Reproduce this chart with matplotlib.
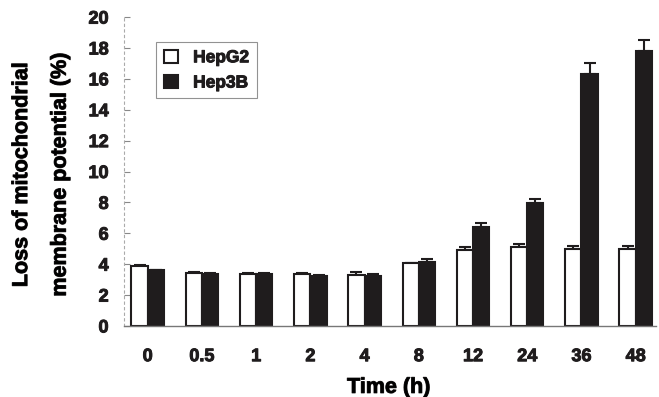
import numpy as np
import matplotlib
matplotlib.use("Agg")
import matplotlib.pyplot as plt
import matplotlib.patheffects as pe

# values
time_labels = ["0", "0.5", "1", "2", "4", "8", "12", "24", "36", "48"]
hepg2 = [3.9, 3.45, 3.35, 3.35, 3.3, 4.05, 4.9, 5.1, 4.95, 4.95]
hepg2_err = [0.05, 0.05, 0.05, 0.05, 0.2, 0.05, 0.18, 0.2, 0.2, 0.2]
hep3b = [3.6, 3.35, 3.35, 3.25, 3.25, 4.15, 6.4, 7.95, 16.3, 17.8]
hep3b_err = [0.05, 0.1, 0.05, 0.05, 0.12, 0.2, 0.25, 0.3, 0.7, 0.7]
y_ticks = [0, 2, 4, 6, 8, 10, 12, 14, 16, 18, 20]

dark = "#1f1c1d"
plt.rcParams["font.family"] = ["Liberation Sans", "DejaVu Sans"]
plt.rcParams["font.weight"] = "bold"
plt.rcParams["text.color"] = dark
plt.rcParams["xtick.labelcolor"] = dark
plt.rcParams["ytick.labelcolor"] = dark
# slightly heavier glyphs, like the scanned figure
heavy = [pe.withStroke(linewidth=0.7, foreground=dark)]

fig = plt.figure(figsize=(6.59, 3.97), dpi=100)
ax = fig.add_axes([0.188, 0.179, 0.807, 0.778])

x = np.arange(len(time_labels))
w = 0.3

ax.bar(x - w / 2, hepg2, width=w, color="white", edgecolor=dark, linewidth=1.5,
       label="HepG2", zorder=2)
ax.bar(x + w / 2, hep3b, width=w, color=dark, edgecolor=dark, linewidth=1.5,
       label="Hep3B", zorder=2)

# upward error bars only
ax.errorbar(x - w / 2, hepg2, yerr=[np.zeros(len(hepg2)), hepg2_err], fmt="none",
            ecolor=dark, elinewidth=1.5, capsize=4, capthick=1.5, zorder=1)
ax.errorbar(x + w / 2, hep3b, yerr=[np.zeros(len(hep3b)), hep3b_err], fmt="none",
            ecolor=dark, elinewidth=1.5, capsize=4, capthick=1.5, zorder=1)

ax.set_xlim(-0.44, 9.37)
ax.set_ylim(0, 20)
ax.set_yticks(y_ticks)
ax.set_xticks(x)
ax.set_xticklabels(time_labels)

ax.tick_params(axis="x", length=0, pad=16, labelsize=13)
ax.tick_params(axis="y", direction="in", length=4, width=0.8, color="#888888",
               pad=11, labelsize=13)

for side in ["top", "right"]:
    ax.spines[side].set_visible(False)
ax.spines["left"].set_color("#aaaaaa")
ax.spines["left"].set_linestyle((0, (2, 3)))
ax.spines["left"].set_linewidth(0.8)
ax.spines["bottom"].set_color("#777777")
ax.spines["bottom"].set_linewidth(1.0)

ax.set_ylabel("Loss of mitochondrial\nmembrane potential (%)", fontsize=15.5,
              fontweight="bold", linespacing=2.1)
ax.yaxis.set_label_coords(-0.10, 0.49)
ax.set_xlabel("Time (h)", fontsize=15.5, fontweight="bold")
ax.xaxis.set_label_coords(0.498, -0.165)

leg = ax.legend(loc="upper left", bbox_to_anchor=(0.06, 0.92), fontsize=12.5,
                frameon=True, fancybox=False, edgecolor="#777777",
                handlelength=0.8, handleheight=0.8, handletextpad=0.9,
                borderpad=0.45, labelspacing=0.55, borderaxespad=0)
leg.get_frame().set_linewidth(0.8)

texts = ax.get_xticklabels() + ax.get_yticklabels() + leg.get_texts()
texts += [ax.xaxis.label, ax.yaxis.label]
for t in texts:
    t.set_path_effects(heavy)

fig.savefig("out.png", dpi=100)
